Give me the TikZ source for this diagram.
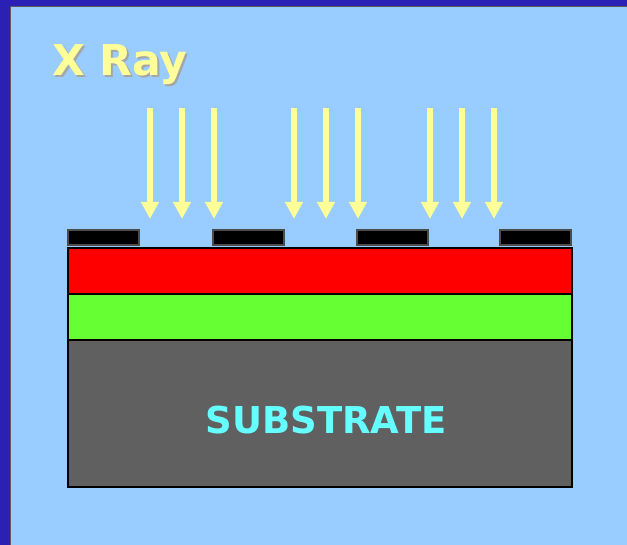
\documentclass[tikz,border=0pt]{standalone}
\usepackage{fontspec}
\usepackage{xcolor}
\usetikzlibrary{arrows.meta, positioning}
\newfontfamily\slidefont{DejaVu Sans}
\definecolor{slidebg}{HTML}{99CCFF}
\definecolor{slideframe}{HTML}{2A20B4}
\definecolor{rayyellow}{HTML}{FFFF99}
\definecolor{resistred}{HTML}{FF0000}
\definecolor{filmgreen}{HTML}{66FF33}
\definecolor{substgray}{HTML}{606060}
\definecolor{substcyan}{HTML}{66FFFF}
\tikzset{
  layer/.style={rectangle, draw=black, line width=2pt, anchor=north west,
                minimum width=504pt, inner sep=0pt, outer sep=0pt},
  maskbar/.style={rectangle, draw=black!70, fill=black, line width=1.6pt,
                anchor=north west, minimum width=71pt, minimum height=15pt,
                inner sep=0pt, outer sep=0pt},
  xray/.style={-{Triangle[width=17pt, length=17pt]}, draw=rayyellow,
                fill=rayyellow, line width=6pt},
  title/.style={font=\slidefont\bfseries\fontsize{42.5}{50}\selectfont,
                inner sep=0pt, anchor=base west},
}

\begin{document}
\begin{tikzpicture}[x=1pt, y=-1pt]

% ---- slide frame ----
\useasboundingbox (0,0) rectangle (627,545);
\fill[slidebg] (0,0) rectangle (627,545);
\fill[slideframe] (0,0) rectangle (627,6);
\fill[slideframe] (0,0) rectangle (10,545);
\draw[black!65, line width=1.5pt] (10.5,545) -- (10.5,6.5) -- (627,6.5);

% ---- title ----
\node[title, text=black!35] (titleshadow) at (54,78) {X Ray};
\node[title, text=rayyellow] (xraytitle) at (52,76) {X Ray};

% ---- layer stack ----
\node[layer, fill=resistred, minimum height=46pt] (resist) at (68,248) {};
\node[layer, fill=filmgreen, minimum height=46pt] (film) at (resist.south west) {};
\node[layer, fill=substgray, minimum height=147pt] (substrate) at (film.south west) {};
\node[font=\slidefont\bfseries\fontsize{37}{44}\selectfont, text=substcyan,
      inner sep=0pt] (substlabel) at (326.5,420.5) {SUBSTRATE};

% ---- absorber mask ----
\foreach \m/\x in {m1/68, m2/213, m3/357, m4/500}
  \node[maskbar] (\m) at (\x,230) {};

% ---- incoming x rays ----
\foreach \i/\x in {1/150, 2/182, 3/214, 4/294, 5/326, 6/358, 7/430, 8/462, 9/494} {
  \coordinate (ray\i top) at (\x,108);
  \coordinate (ray\i tip) at (\x,219);
  \draw[xray] (ray\i top) -- (ray\i tip);
}

\end{tikzpicture}
\end{document}
